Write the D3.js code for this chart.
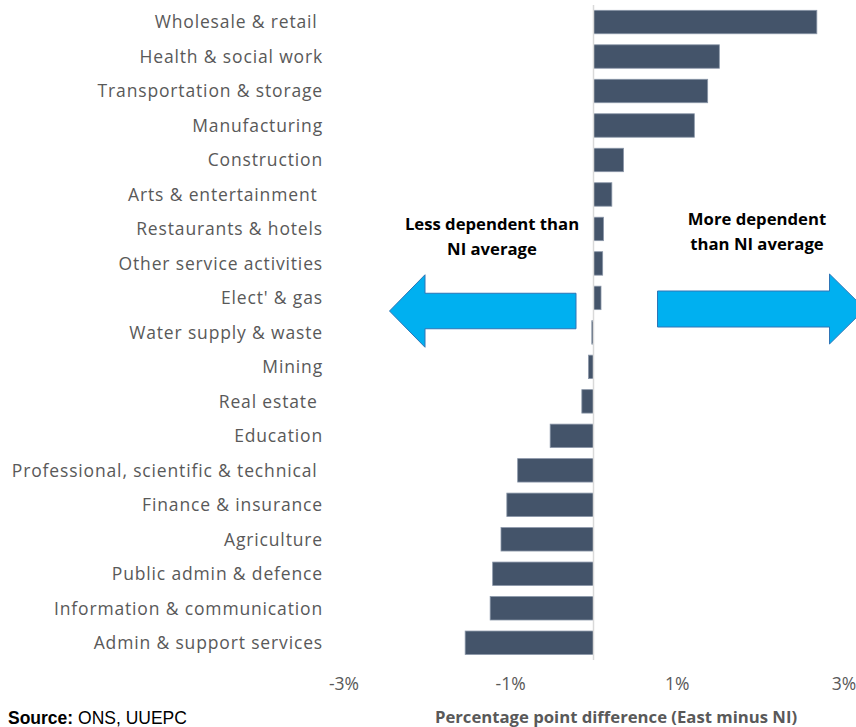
<!DOCTYPE html>
<html>
<head>
<meta charset="utf-8">
<script src="https://cdn.jsdelivr.net/npm/d3@7"></script>
<style>
  html, body { margin: 0; padding: 0; background: #fff; }
  svg { display: block; }
</style>
</head>
<body>
<svg id="chart" width="856" height="727"></svg>
<script>
const categories = [
  "Wholesale & retail ", "Health & social work", "Transportation & storage", "Manufacturing",
  "Construction", "Arts & entertainment ", "Restaurants & hotels", "Other service activities",
  "Elect' & gas", "Water supply & waste", "Mining", "Real estate ", "Education",
  "Professional, scientific & technical ", "Finance & insurance", "Agriculture",
  "Public admin & defence", "Information & communication", "Admin & support services"
];
const values = [2.68, 1.51, 1.37, 1.21, 0.36, 0.22, 0.12, 0.11, 0.09, -0.02, -0.06, -0.14, -0.52,
  -0.91, -1.04, -1.11, -1.21, -1.24, -1.54];
const tickValues = [-3, -1, 1, 3];
const tickLabels = ["-3%", "-1%", "1%", "3%"];
const xTitle = "Percentage point difference (East minus NI)";
const leftNote = ["Less dependent than", "NI average"];
const rightNote = ["More dependent", "than NI average"];

const svg = d3.select("#chart");
const x = d3.scaleLinear().domain([-3, 3]).range([343.5, 843.5]);
const y = d3.scaleBand().domain(categories).range([4.8, 660]).paddingInner(0.32).paddingOuter(0.16);

const labelFont = "'Open Sans', Lato, sans-serif";

// bars
svg.append("g").selectAll("rect").data(values).join("rect")
  .attr("x", (d) => x(Math.min(0, d)))
  .attr("width", (d) => Math.abs(x(d) - x(0)))
  .attr("y", (d, i) => y(categories[i]))
  .attr("height", y.bandwidth())
  .attr("fill", "#44546a")
  .attr("stroke", "#8a96a8")
  .attr("stroke-width", 0.8);

// zero axis line
svg.append("line")
  .attr("x1", x(0)).attr("x2", x(0))
  .attr("y1", 5).attr("y2", 660)
  .attr("stroke", "#d9d9d9").attr("stroke-width", 1.5);

// category labels
svg.append("g").selectAll("text").data(categories).join("text")
  .attr("x", 323)
  .attr("y", (d) => y(d) + y.bandwidth() / 2)
  .attr("dy", "0.36em")
  .attr("text-anchor", "end")
  .attr("font-family", labelFont)
  .attr("font-size", 17.5)
  .attr("letter-spacing", 0.85)
  .attr("fill", "#595959")
  .style("white-space", "pre")
  .text((d) => d);

// x axis tick labels
const xAxis = d3.axisBottom(x).tickValues(tickValues).tickFormat((d, i) => tickLabels[i]).tickSize(0).tickPadding(0);
const gx = svg.append("g").attr("transform", "translate(0,678)").call(xAxis);
gx.select(".domain").remove();
gx.selectAll("text")
  .attr("font-family", labelFont)
  .attr("font-size", 17.5)
  .attr("fill", "#595959");

// axis title
svg.append("text")
  .attr("x", 616).attr("y", 723)
  .attr("text-anchor", "middle")
  .attr("font-family", labelFont)
  .attr("font-weight", "bold")
  .attr("font-size", 16.7)
  .attr("fill", "#595959")
  .text(xTitle);

// source
const src = svg.append("text").attr("x", 8).attr("y", 724)
  .attr("font-family", "'Liberation Sans', Arial, sans-serif")
  .attr("font-size", 17.5).attr("fill", "#000");
src.append("tspan").attr("font-weight", "bold").text("Source:");
src.append("tspan").text(" ONS, UUEPC");

// annotations
function note(lines, cx, y0) {
  const t = svg.append("text").attr("text-anchor", "middle")
    .attr("font-family", labelFont).attr("font-weight", "bold")
    .attr("font-size", 16.7).attr("fill", "#000");
  lines.forEach((l, i) => t.append("tspan").attr("x", cx).attr("y", y0 + i * 25).text(l));
}
note(leftNote, 492, 230);
note(rightNote, 757, 225);

// arrows
function arrowPath(tailX, tipX, cy, bodyH, headH, headLen) {
  const dir = tipX > tailX ? 1 : -1;
  const hx = tipX - dir * headLen;
  return d3.line()([
    [tailX, cy - bodyH / 2], [hx, cy - bodyH / 2], [hx, cy - headH / 2], [tipX, cy],
    [hx, cy + headH / 2], [hx, cy + bodyH / 2], [tailX, cy + bodyH / 2]
  ]) + "Z";
}
svg.append("path").attr("d", arrowPath(576, 389.5, 311, 35.5, 72.5, 35.5))
  .attr("fill", "#00b0f0").attr("stroke", "#2e75b6").attr("stroke-width", 1);
svg.append("path").attr("d", arrowPath(657.5, 865, 309, 36, 70, 35.5))
  .attr("fill", "#00b0f0").attr("stroke", "#2e75b6").attr("stroke-width", 1);
</script>
</body>
</html>
